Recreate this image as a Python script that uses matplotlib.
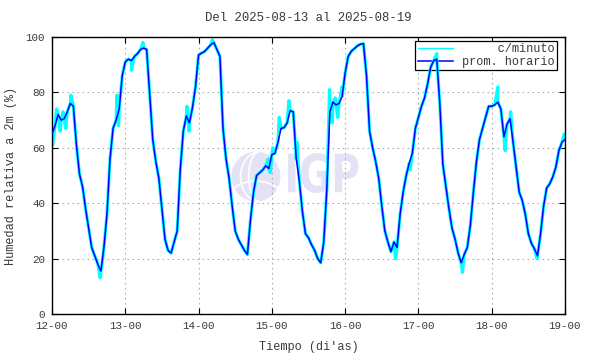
import numpy as np
import matplotlib
matplotlib.use("Agg")
import matplotlib.pyplot as plt
import matplotlib.patches as patches
from matplotlib.textpath import TextPath
from matplotlib.font_manager import FontProperties
from matplotlib.transforms import Affine2D

# Humedad relativa, promedio horario (%) - un valor por hora desde el 12-00
dia12 = [65, 68, 72, 70, 70.5, 73, 76, 75, 61, 50.5, 46, 38, 31, 24, 21, 18,
         15.5, 24, 36, 56, 67, 70, 74, 86]
dia13 = [91, 92, 91.5, 93, 94, 95.5, 96, 95.5, 79, 63, 55, 49, 38, 27, 23, 22,
         26, 30, 52, 66, 71.5, 69, 74.5, 82]
dia14 = [93.5, 94.2, 94.8, 96, 97.2, 98, 95.5, 93, 67, 56, 49, 39, 30, 27, 25, 23,
         21.5, 34, 44, 50, 51, 52, 53.5, 52.5]
dia15 = [57.5, 58, 62, 67, 67.3, 69, 73.4, 73, 56, 48, 37, 29, 27.5, 25, 23, 20,
         18.5, 26, 45, 73, 76.5, 75.5, 76, 78.5]
dia16 = [87, 93, 94.8, 95.8, 96.8, 97.4, 97.6, 86, 66, 60, 55, 49, 39, 30, 26, 22.5,
         26, 24, 36, 44, 50, 54.5, 58, 67]
dia17 = [71, 75, 78, 83, 89, 91.5, 92, 76, 54, 46, 38, 31, 27, 22, 18.5, 21.5,
         24, 32, 44, 55, 63, 67, 71, 75]
dia18 = [75, 75.5, 76.5, 74, 64, 68.5, 70.5, 62, 53, 44, 41, 36, 29, 25.5, 23.5, 21,
         29, 39, 45.5, 47, 49.5, 53, 59, 62]
final = [63]

# picos visibles en la serie por minuto (hora desde el 12-00, valor)
picos_h = [0.2, 1.5, 2.7, 3.6, 4.5, 6.2, 15.8, 16.3, 21.3, 21.8, 26.0, 29.8,
           44.2, 44.9, 52.5, 70.8, 71.5, 72.3, 74.4, 77.6, 80.2, 90.9, 91.8,
           92.8, 93.6, 95.0, 112.5, 117.3, 126.0, 134.4, 146.0, 148.4, 150.2,
           158.8, 167.8]
picos_v = [61, 74, 66, 73, 67, 79, 13, 17, 79, 68, 88, 98,
           75, 66, 99, 56, 51, 60, 71, 77, 62, 81, 69,
           78, 71, 82, 20, 52, 94, 15, 82, 59, 73,
           20, 65]

dias = [12, 13, 14, 15, 16, 17, 18, 19]
etiquetas = ["%d-00" % d for d in dias]

horario = np.array(dia12 + dia13 + dia14 + dia15 + dia16 + dia17 + dia18 + final)
t_hor = 12 + np.arange(len(horario)) / 24.0

t_min = np.concatenate([t_hor, 12 + np.array(picos_h) / 24.0])
v_min = np.concatenate([horario, np.array(picos_v)])
orden = np.argsort(t_min)
t_min, v_min = t_min[orden], v_min[orden]

plt.rcParams['font.family'] = ['Liberation Mono', 'DejaVu Sans Mono']
gris = '#3a3a3a'

fig = plt.figure(figsize=(5.9, 3.54), dpi=100)
ax = fig.add_axes([52/590, 40/354, 513/590, 277/354])

# marca de agua IGP
lila = '#e3e3f5'
ax.add_patch(patches.Ellipse((14.783, 49.6), 0.669, 18.05, facecolor=lila,
                             edgecolor='none', zorder=0.5))
for w in [0.30, 0.52]:
    ax.add_patch(patches.Arc((14.783 + 0.05, 49.6), w, 18.05, theta1=90, theta2=270,
                             color='white', lw=1.2, zorder=0.6))
ax.add_patch(patches.Arc((14.783, 38), 0.9, 20, theta1=40, theta2=140,
                         color='white', lw=1.2, zorder=0.6))
tp = TextPath((0, 0), "IGP", size=1, prop=FontProperties(family='DejaVu Sans', weight='bold'))
ext = tp.get_extents()
tr = Affine2D().translate(-ext.x0, -ext.y0).scale(0.96 / ext.width, 14.4 / ext.height).translate(15.22, 43.7)
ax.add_patch(patches.PathPatch(tr.transform_path(tp), facecolor=lila, edgecolor='none', zorder=0.5))

ax.plot(t_min, v_min, color='#00ffff', lw=2.3, label='     c/minuto', zorder=2)
ax.plot(t_hor, horario, color='#0000ff', lw=1.1, label='prom. horario', zorder=3)

ax.set_xlim(12, 19)
ax.set_ylim(0, 100)
ax.set_xticks(dias)
ax.set_xticklabels(etiquetas)
ax.set_yticks([0, 20, 40, 60, 80, 100])
ax.grid(True, color='#b0b0b0', linestyle=(0, (1.5, 3)), lw=0.8)
ax.tick_params(direction='in', top=True, right=True, length=4, width=0.8,
               labelsize=7.8, labelcolor=gris, pad=5)
for s in ax.spines.values():
    s.set_linewidth(1.0)

ax.set_xlabel("Tiempo (di'as)", fontsize=8.6, color=gris)
ax.xaxis.set_label_coords(0.5, -0.097)
ax.set_ylabel("Humedad relativa a 2m (%)", fontsize=8.6, color=gris)
ax.yaxis.set_label_coords(-0.068, 0.5)
fig.text(308.5/590, 1 - 18/354, "Del 2025-08-13 al 2025-08-19", ha='center', va='center',
         fontsize=8.9, color=gris)

leg = ax.legend(loc='upper right', bbox_to_anchor=(0.984, 0.9856), borderaxespad=0,
                fancybox=False, edgecolor='black', framealpha=1, fontsize=8.6,
                handlelength=3.0, handletextpad=0.7, labelspacing=0.05, borderpad=0.2)
leg.get_frame().set_linewidth(0.9)
leg.get_lines()[0].set_linewidth(0.9)
leg.set_zorder(1.8)  # las curvas pasan por encima de la leyenda
for txt in leg.get_texts():
    txt.set_color(gris)

fig.savefig('out.png', dpi=100)
